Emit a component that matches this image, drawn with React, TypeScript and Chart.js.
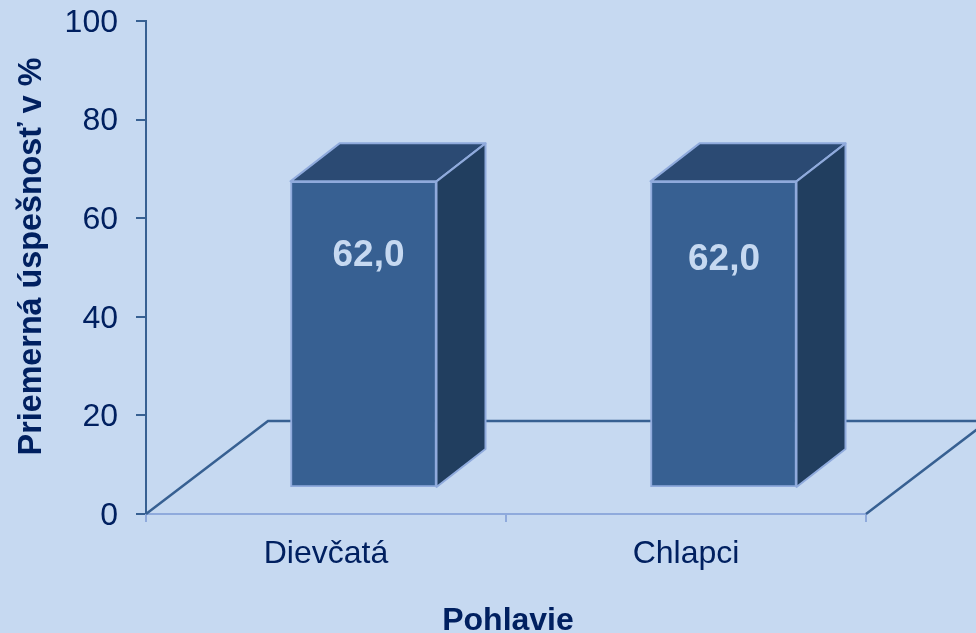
import React, { useEffect, useRef } from "react";
import { Chart, registerables } from "chart.js";

Chart.register(...registerables);

const categories = ["Dievčatá", "Chlapci"];
const values = [62.0, 62.0];
const yTitle = "Priemerná úspešnosť v %";
const xTitle = "Pohlavie";

const BG = "#c6d9f1";
const FRONT = "#376092";
const TOP = "#2b4a73";
const SIDE = "#213e5f";
const EDGE = "#8faadc";
const TEXT = "#002060";
const LABEL = "#c6d9f1";
const FONT = "'Liberation Sans', Arial, sans-serif";

const barShift = { x: 37.5, y: -27 };
const depth = { x: 49, y: -38 };
const floorDepth = { x: 122, y: -93 };
const labelNudges = [{ x: 5, y: 20 }, { x: 0.5, y: 24 }];

const poly = (ctx: CanvasRenderingContext2D, pts: number[][], fill: string) => {
  ctx.beginPath();
  pts.forEach((p, i) => (i ? ctx.lineTo(p[0], p[1]) : ctx.moveTo(p[0], p[1])));
  ctx.closePath();
  ctx.fillStyle = fill;
  ctx.fill();
  ctx.strokeStyle = EDGE;
  ctx.lineWidth = 2;
  ctx.lineJoin = "round";
  ctx.stroke();
};

const box3d = {
  id: "box3d",
  beforeDatasetsDraw(chart: any) {
    const { ctx, chartArea: a, width } = chart;
    ctx.save();
    ctx.strokeStyle = FRONT;
    ctx.lineWidth = 2.5;
    ctx.beginPath();
    ctx.moveTo(a.left, a.bottom);
    ctx.lineTo(a.left + floorDepth.x, a.bottom + floorDepth.y);
    ctx.lineTo(width, a.bottom + floorDepth.y);
    ctx.moveTo(a.right, a.bottom);
    ctx.lineTo(a.right + floorDepth.x, a.bottom + floorDepth.y);
    ctx.stroke();

    chart.getDatasetMeta(0).data.forEach((bar: any) => {
      const half = bar.width / 2;
      const l = bar.x - half + barShift.x;
      const r = bar.x + half + barShift.x;
      const t = bar.y + barShift.y;
      const b = bar.base + barShift.y;
      poly(ctx, [[l, t], [l + depth.x, t + depth.y], [r + depth.x, t + depth.y], [r, t]], TOP);
      poly(ctx, [[r, t], [r + depth.x, t + depth.y], [r + depth.x, b + depth.y], [r, b]], SIDE);
    });
    ctx.translate(barShift.x, barShift.y);
  },
  afterDatasetsDraw(chart: any) {
    const { ctx } = chart;
    ctx.restore();
    ctx.save();
    ctx.font = `bold 37px ${FONT}`;
    ctx.fillStyle = LABEL;
    ctx.textAlign = "center";
    ctx.textBaseline = "middle";
    chart.getDatasetMeta(0).data.forEach((bar: any, i: number) => {
      const text = values[i].toFixed(1).replace(".", ",");
      ctx.fillText(text, bar.x + barShift.x + labelNudges[i].x, bar.y + barShift.y + 54 + labelNudges[i].y);
    });
    ctx.restore();
  },
};

const shiftTitle = (dx: number, dy: number) => (s: any) => {
  if (s.__shifted) return;
  s.__shifted = true;
  const draw = s.drawTitle.bind(s);
  s.drawTitle = () => {
    s.ctx.save();
    s.ctx.translate(dx, dy);
    draw();
    s.ctx.restore();
  };
};

export default function App() {
  const ref = useRef<HTMLCanvasElement>(null);
  useEffect(() => {
    document.body.style.margin = "0";
    document.body.style.background = BG;
    const chart = new Chart(ref.current!, {
      type: "bar",
      plugins: [box3d],
      data: {
        labels: categories,
        datasets: [
          {
            data: values,
            backgroundColor: FRONT,
            borderColor: EDGE,
            borderWidth: 2,
            borderSkipped: false,
            barThickness: 146,
          },
        ],
      },
      options: {
        responsive: false,
        animation: false,
        layout: { padding: { top: 21, right: 110, left: 0, bottom: 0 } },
        plugins: { legend: { display: false }, tooltip: { enabled: false } },
        scales: {
          x: {
            afterFit: (s: any) => { s.height = 119; s.paddingLeft = 0; s.paddingRight = 0; },
            afterUpdate: shiftTitle(2, 7),
            border: { color: EDGE, width: 2 },
            grid: { display: true, drawOnChartArea: false, color: EDGE, lineWidth: 2, tickLength: 8 },
            ticks: { color: TEXT, font: { family: FONT, size: 32 }, padding: 13, maxRotation: 0 },
            title: { display: true, text: xTitle, color: TEXT, font: { family: FONT, size: 32, weight: "bold" }, padding: { top: 0, bottom: 0 } },
          },
          y: {
            min: 0,
            max: 100,
            afterFit: (s: any) => { s.width = 146; s.paddingTop = 0; s.paddingBottom = 0; },
            afterUpdate: shiftTitle(3, -11),
            border: { color: FRONT, width: 2 },
            grid: { display: true, drawOnChartArea: false, color: FRONT, lineWidth: 0, tickWidth: 2, tickColor: FRONT, tickLength: 10 },
            ticks: { stepSize: 20, color: TEXT, font: { family: FONT, size: 32 }, padding: 18, labelOffset: 2 },
            title: { display: true, text: yTitle, color: TEXT, font: { family: FONT, size: 32.3, weight: "bold" }, padding: { top: 10, bottom: 0 } },
          },
        },
      },
    } as any);
    return () => chart.destroy();
  }, []);
  return (
    <div style={{ width: 976, height: 633, background: BG }}>
      <canvas ref={ref} width={976} height={633} style={{ display: "block" }} />
    </div>
  );
}
